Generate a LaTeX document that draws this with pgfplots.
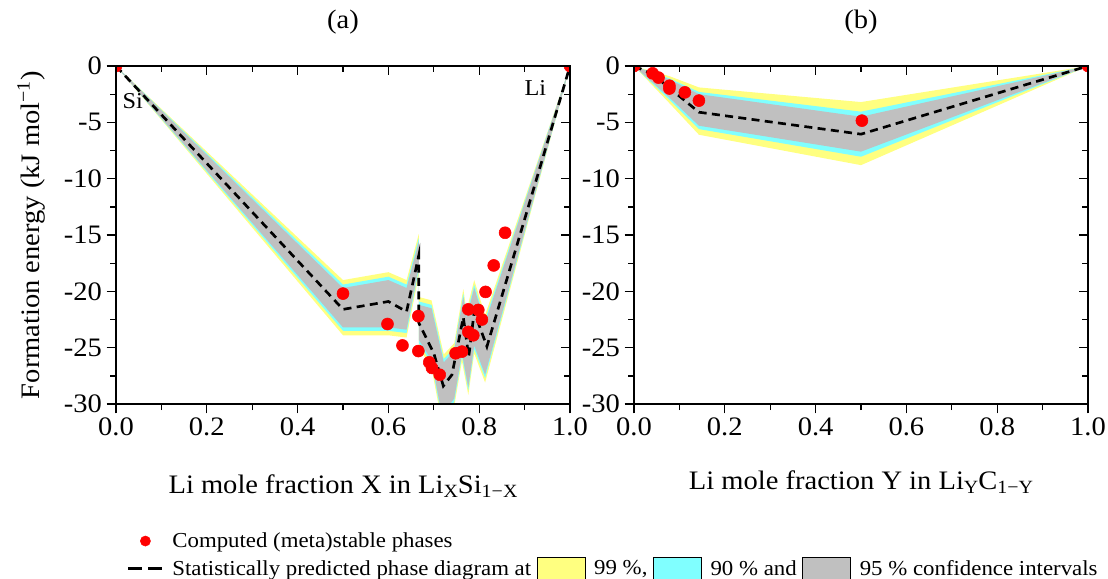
\documentclass[border=0pt]{standalone}
\usepackage{fontspec}
\setmainfont{Liberation Serif}[FakeStretch=1.07]
\usepackage{pgfplots}
\pgfplotsset{compat=1.18}

\definecolor{yel}{RGB}{255,255,128}
\definecolor{cya}{RGB}{128,255,255}
\definecolor{gry}{RGB}{192,192,192}

\pgfplotsset{
 panel/.style={
  scale only axis, width=340.5pt, height=253.5pt,
  xmin=0, xmax=1, ymin=-30, ymax=0,
  xtick={0,0.2,0.4,0.6,0.8,1}, xticklabels={0.0,0.2,0.4,0.6,0.8,1.0},
  ytick={-30,-25,-20,-15,-10,-5,0}, yticklabels={-30,-25,-20,-15,-10,-5,0},
  minor x tick num=1, minor y tick num=1,
  xtick pos=left, ytick pos=left, tick align=outside,
  major tick length=7pt, minor tick length=4.5pt,
  axis line style={line width=1.1pt},
  every tick/.style={black, line width=1pt},
  tick label style={font=\fontsize{20}{24}\selectfont},
  label style={font=\fontsize{20}{24}\selectfont},
  title style={font=\fontsize{20}{24}\selectfont, at={(axis description cs:0.5,1)}, anchor=base, yshift=22.5pt},
  xlabel style={at={(axis description cs:0.5,0)}, anchor=base, yshift=-67pt},
  clip marker paths=true,
 },
 mirror/.style={
  scale only axis, width=340.5pt, height=253.5pt,
  xmin=0, xmax=1, ymin=-30, ymax=0,
  xtick={0,0.2,0.4,0.6,0.8,1}, xticklabels={},
  ytick={-30,-25,-20,-15,-10,-5,0}, yticklabels={},
  minor x tick num=1, minor y tick num=1,
  xtick pos=right, ytick pos=right, tick align=inside,
  major tick length=7pt, minor tick length=4.5pt,
  axis line style={line width=1.1pt},
  every tick/.style={black, line width=1pt},
 },
 dashedline/.style={black, line width=2pt, dash pattern=on 6pt off 4pt},
 dots/.style={only marks, mark=*, mark size=4.5pt, color=red, mark options={fill=red, draw=red}},
 marklegend/.style={legend image code/.code={\draw[mark repeat=2,mark phase=2,##1] plot coordinates {(0pt,0pt)(12.75pt,0pt)(25.5pt,0pt)};}},
 linelegend/.style={legend image code/.code={\draw[##1] (0pt,0pt) -- (25.5pt,0pt);}},
 boxlegend/.style={legend image code/.code={\draw[##1] (0pt,-8.5pt) rectangle (36pt,8.5pt);}},
}

\newcommand{\sub}[1]{\raisebox{-0.32ex}{\fontsize{14}{16}\selectfont #1}}

\begin{document}
\begin{tikzpicture}
\useasboundingbox (0pt,0pt) rectangle (831pt,-434.25pt);

% ---------------- panel (a)
\begin{axis}[panel, at={(87pt,-303pt)}, anchor=south west,
  title={(a)},
  xlabel={Li mole fraction X in Li\sub{X}Si\sub{1−X}},
  ylabel={Formation energy (kJ mol\textsuperscript{−1})},
  ylabel style={at={(axis description cs:-0.168,0.5)}, anchor=base},
  legend columns=4,
  legend cell align=left,
  legend style={at={(axis description cs:0.015,-0.364)}, anchor=north west,
    draw=none, fill=none, font=\fontsize{16}{19}\selectfont,
    /tikz/row sep=3.5pt,
    /tikz/every odd column/.append style={column sep=4.5pt},
    /tikz/every even column/.append style={column sep=2pt}},
]
% legend entries
\addlegendimage{marklegend, only marks, mark=*, mark size=3.8pt, red, mark options={fill=red,draw=red}}
\addlegendentry{Computed (meta)stable phases}
\addlegendimage{empty legend}\addlegendentry{}
\addlegendimage{empty legend}\addlegendentry{}
\addlegendimage{empty legend}\addlegendentry{}
\addlegendimage{linelegend, black, line width=2pt, dash pattern=on 10.5pt off 4.5pt}
\addlegendentry{Statistically predicted phase diagram at}
\addlegendimage{boxlegend, fill=yel, draw=black, line width=0.8pt}
\addlegendentry{99 \%,}
\addlegendimage{boxlegend, fill=cya, draw=black, line width=0.8pt}
\addlegendentry{90 \% and}
\addlegendimage{boxlegend, fill=gry, draw=black, line width=0.8pt}
\addlegendentry{95 \% confidence intervals}

% bands
\addplot[fill=yel, draw=none, forget plot] coordinates {
 (0,0)(0.5,-19.0)(0.6,-18.3)(0.64,-19.0)(0.667,-14.9)(0.667,-20.5)(0.695,-20.8)(0.722,-25.6)(0.745,-24.6)(0.765,-19.8)(0.772,-21.7)(0.789,-19.0)(0.813,-22.1)(1,0)
 (0.813,-28.1)(0.789,-25.5)(0.776,-29.2)(0.762,-26.2)(0.745,-30.2)(0.718,-31.7)(0.695,-26.8)(0.667,-25.0)(0.667,-18.5)(0.64,-24.1)(0.6,-23.9)(0.5,-23.9)
} -- cycle;
\addplot[fill=cya, draw=none, forget plot] coordinates {
 (0,0)(0.5,-19.4)(0.6,-18.7)(0.64,-19.4)(0.667,-15.3)(0.667,-20.9)(0.695,-21.2)(0.722,-26.0)(0.745,-25.0)(0.765,-20.2)(0.772,-22.1)(0.789,-19.4)(0.813,-22.5)(1,0)
 (0.813,-27.7)(0.789,-25.1)(0.776,-28.8)(0.762,-25.8)(0.745,-29.8)(0.718,-31.3)(0.695,-26.4)(0.667,-24.6)(0.667,-18.1)(0.64,-23.7)(0.6,-23.5)(0.5,-23.5)
} -- cycle;
\addplot[fill=gry, draw=none, forget plot] coordinates {
 (0,0)(0.5,-19.7)(0.6,-19.0)(0.64,-19.7)(0.667,-15.6)(0.667,-21.2)(0.695,-21.5)(0.722,-26.3)(0.745,-25.3)(0.765,-20.5)(0.772,-22.4)(0.789,-19.7)(0.813,-22.8)(1,0)
 (0.813,-27.4)(0.789,-24.8)(0.776,-28.5)(0.762,-25.5)(0.745,-29.5)(0.718,-31.0)(0.695,-26.1)(0.667,-24.3)(0.667,-17.8)(0.64,-23.4)(0.6,-23.2)(0.5,-23.2)
} -- cycle;
% dashed line
\addplot[dashedline, forget plot] coordinates {
 (0,0)(0.5,-21.6)(0.6,-20.9)(0.64,-21.8)(0.667,-16.8)(0.667,-22.8)(0.70,-25.5)(0.721,-28.4)(0.74,-27.4)(0.765,-22.3)(0.777,-25.8)(0.789,-21.8)(0.817,-24.9)(1,0)
};
% computed phases
\addplot[dots, forget plot] coordinates {
 (0,0)(0.5,-20.2)(0.598,-22.9)(0.631,-24.8)(0.666,-22.2)(0.666,-25.3)(0.690,-26.3)(0.696,-26.8)(0.713,-27.4)
 (0.748,-25.5)(0.762,-25.35)(0.776,-21.6)(0.776,-23.6)(0.787,-23.9)(0.798,-21.65)(0.806,-22.5)(0.814,-20.05)(0.832,-17.7)(0.857,-14.8)(1,0)
};
\node[anchor=base west, font=\fontsize{17}{20}\selectfont] at (axis cs:0.004,-3.73) {Si};
\node[anchor=base east, font=\fontsize{17}{20}\selectfont] at (axis cs:0.958,-2.66) {Li};
\end{axis}
\begin{axis}[mirror, at={(87pt,-303pt)}, anchor=south west]
\end{axis}

% ---------------- panel (b)
\begin{axis}[panel, at={(475.5pt,-303pt)}, anchor=south west,
  title={(b)},
  xlabel={Li mole fraction Y in Li\sub{Y}C\sub{1−Y}},
  xlabel style={yshift=3pt},
]
\addplot[fill=yel, draw=none] coordinates {
 (0,0)(0.078,-0.9)(0.143,-1.9)(0.5,-3.2)(1,0)(0.5,-8.8)(0.143,-6.1)(0.078,-3.3)
} -- cycle;
\addplot[fill=cya, draw=none] coordinates {
 (0,0)(0.078,-1.1)(0.143,-2.3)(0.5,-4.05)(1,0)(0.5,-8.05)(0.143,-5.6)(0.078,-3.0)
} -- cycle;
\addplot[fill=gry, draw=none] coordinates {
 (0,0)(0.078,-1.2)(0.143,-2.5)(0.5,-4.5)(1,0)(0.5,-7.6)(0.143,-5.3)(0.078,-2.8)
} -- cycle;
\addplot[dashedline] coordinates {
 (0,0)(0.04,-0.7)(0.078,-1.95)(0.143,-4.1)(0.5,-6.05)(1,0)
};
\addplot[dots] coordinates {
 (0,0)(0.041,-0.65)(0.054,-1.03)(0.078,-1.75)(0.078,-2.0)(0.112,-2.34)(0.143,-3.07)(0.502,-4.85)(1,0)
};
\end{axis}
\begin{axis}[mirror, at={(475.5pt,-303pt)}, anchor=south west]
\end{axis}
\end{tikzpicture}
\end{document}
